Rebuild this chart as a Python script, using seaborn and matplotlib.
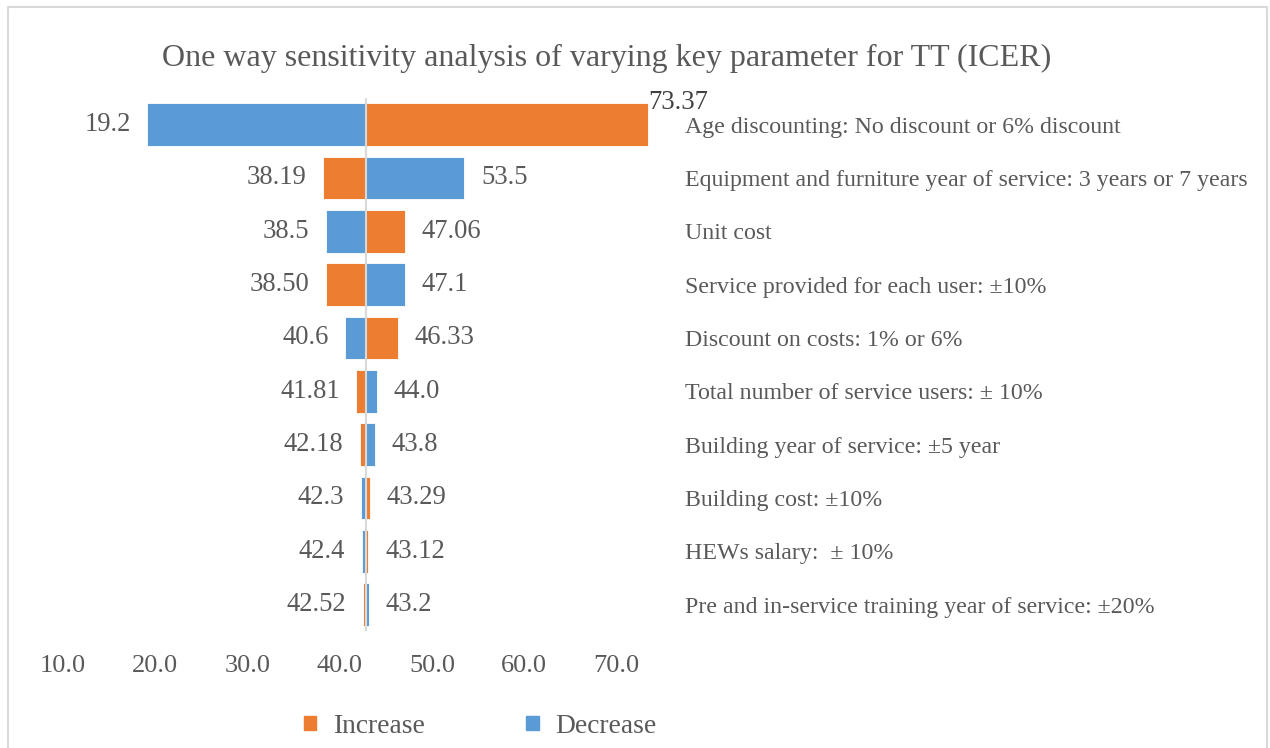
"""Tornado chart: one way sensitivity analysis for TT (ICER)."""

import matplotlib.pyplot as plt
import matplotlib.ticker as mticker
from matplotlib.patches import Patch, Rectangle
import pandas as pd
import seaborn as sns

# --- data -------------------------------------------------------------------
BASE = 42.85

params = [
    "Age discounting: No discount or 6% discount",
    "Equipment and furniture year of service: 3 years or 7 years",
    "Unit cost",
    "Service provided for each user: \u00b110%",
    "Discount on costs: 1% or 6%",
    "Total number of service users: \u00b1 10%",
    "Building year of service: \u00b15 year",
    "Building cost: \u00b110%",
    "HEWs salary:  \u00b1 10%",
    "Pre and in-service training year of service: \u00b120%",
]
increase = [73.37, 38.19, 47.06, 38.50, 46.33, 41.81, 42.18, 43.29, 43.12, 42.52]
decrease = [19.2, 53.5, 38.5, 47.1, 40.6, 44.0, 43.8, 42.3, 42.4, 43.2]
increase_labels = ["73.37", "38.19", "47.06", "38.50", "46.33",
                   "41.81", "42.18", "43.29", "43.12", "42.52"]
decrease_labels = ["19.2", "53.5", "38.5", "47.1", "40.6",
                   "44.0", "43.8", "42.3", "42.4", "43.2"]
x_ticks = [10, 20, 30, 40, 50, 60, 70]

ORANGE = "#ED7D31"
BLUE = "#5B9BD5"
TEXT = "#595959"

sns.set_theme(style="white")
plt.rcParams["font.family"] = ["Liberation Serif", "DejaVu Serif"]

df = pd.DataFrame({
    "param": params * 2,
    "direction": ["Increase"] * len(params) + ["Decrease"] * len(params),
    "value": increase + decrease,
    "label": increase_labels + decrease_labels,
})
df["delta"] = df["value"] - BASE

fig = plt.figure(figsize=(12.7, 7.48), dpi=100)
ax = fig.add_axes([0.0492, 0.156, 0.4728, 0.713])

sns.barplot(
    data=df, x="delta", y="param", hue="direction",
    hue_order=["Increase", "Decrease"], order=params,
    palette={"Increase": ORANGE, "Decrease": BLUE}, saturation=1,
    dodge=False, width=0.8, errorbar=None, legend=False,
    left=BASE, edgecolor="white", linewidth=0.6, ax=ax,
)

ax.set_xlim(10, 75)
ax.axvline(BASE, color="#d9d9d9", lw=1.5, zorder=3)

# value labels outside each bar end
for i, row in df.iterrows():
    y = params.index(row["param"])
    if row["param"] == params[0] and row["direction"] == "Increase":
        ax.annotate(row["label"], (row["value"], y - 0.42), xytext=(0, 0),
                    textcoords="offset points", ha="left", va="center",
                    fontsize=19.2, color="#404040")
        continue
    right = row["delta"] >= 0
    ax.annotate(row["label"], (row["value"], y),
                xytext=(12 if right else -12, 0), textcoords="offset points",
                ha="left" if right else "right", va="center",
                fontsize=19.2, color=TEXT)

ax.xaxis.set_major_locator(mticker.FixedLocator(x_ticks))
ax.xaxis.set_major_formatter(mticker.FormatStrFormatter("%.1f"))
ax.tick_params(axis="x", length=0, pad=17, labelsize=19, labelcolor=TEXT)
ax.yaxis.tick_right()
ax.tick_params(axis="y", length=0, pad=16, labelsize=17.2, labelcolor=TEXT)
ax.set_xlabel("")
ax.set_ylabel("")
for s in ax.spines.values():
    s.set_visible(False)

fig.text(0.478, 0.922,
         "One way sensitivity analysis of varying key parameter for TT (ICER)",
         ha="center", va="center", fontsize=23, color=TEXT)

handles = [Patch(color=ORANGE, label="Increase"), Patch(color=BLUE, label="Decrease")]
fig.legend(handles=handles, loc="center", bbox_to_anchor=(0.378, 0.029),
           ncol=2, frameon=False, fontsize=19.8, labelcolor=TEXT,
           handlelength=0.45, handleheight=0.45, handletextpad=0.6,
           columnspacing=3.7)

fig.patches.append(Rectangle((8 / 1270, -0.01), 1259 / 1270, 1 - 7 / 748 + 0.01,
                             transform=fig.transFigure, fill=False,
                             edgecolor="#d9d9d9", lw=1.5))

fig.savefig("out.png", dpi=100, facecolor="white")
